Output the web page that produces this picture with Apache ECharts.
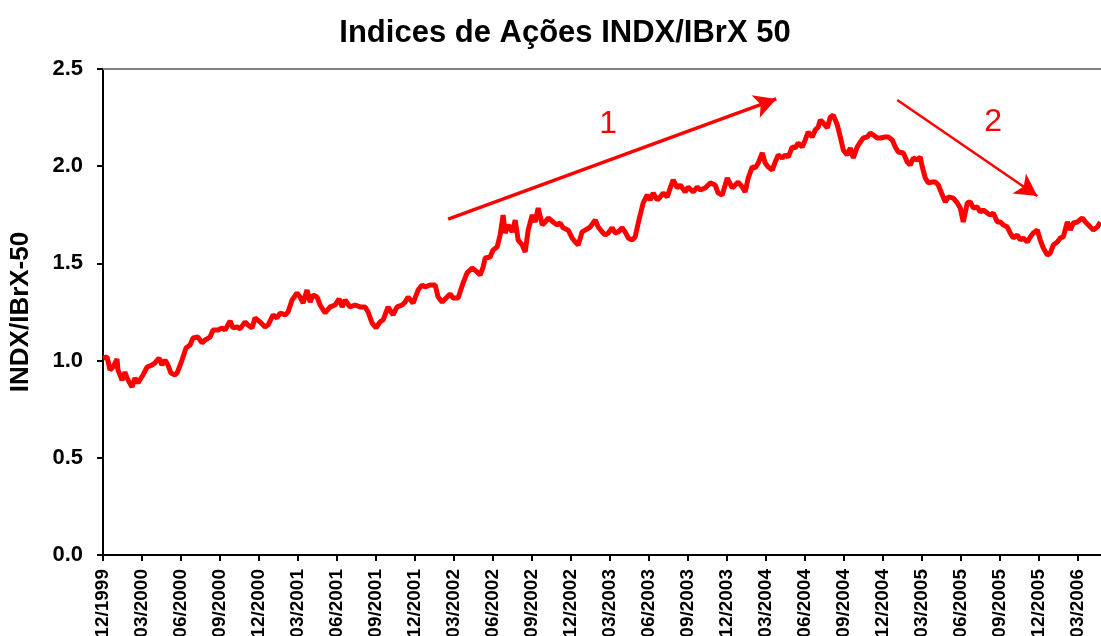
<!DOCTYPE html>
<html>
<head>
<meta charset="utf-8">
<script src="https://cdn.jsdelivr.net/npm/echarts@6/dist/echarts.min.js"></script>
<style>
  html, body { margin: 0; padding: 0; background: #fff; }
  #chart { width: 1101px; height: 636px; }
</style>
</head>
<body>
<div id="chart"></div>
<script>
// quarter labels, one every 3 months starting 12/1999
var quarterLabels = ['12/1999', '03/2000', '06/2000', '09/2000', '12/2000', '03/2001', '06/2001',
    '09/2001', '12/2001', '03/2002', '06/2002', '09/2002', '12/2002', '03/2003', '06/2003',
    '09/2003', '12/2003', '03/2004', '06/2004', '09/2004', '12/2004', '03/2005', '06/2005',
    '09/2005', '12/2005', '03/2006'];

// months elapsed since 12/1999 for each reading
var monthsSinceStart = [
    0.00, 0.31, 0.54, 0.77, 1.08, 1.15, 1.46, 1.69, 1.85, 2.23,
    2.46, 2.69, 3.08, 3.39, 3.77, 4.00, 4.31, 4.54, 4.77, 5.00,
    5.23, 5.54, 5.70, 6.08, 6.39, 6.70, 6.93, 7.31, 7.62, 7.85,
    8.24, 8.47, 8.85, 9.16, 9.39, 9.78, 10.01, 10.32, 10.55, 10.93,
    11.16, 11.47, 11.70, 12.09, 12.47, 12.70, 13.09, 13.39, 13.63, 14.01,
    14.24, 14.55, 14.93, 15.17, 15.40, 15.70, 15.94, 16.17, 16.47, 16.71,
    17.09, 17.48, 17.86, 18.17, 18.40, 18.63, 19.01, 19.40, 19.78, 20.17,
    20.40, 20.71, 21.02, 21.32, 21.56, 21.94, 22.32, 22.63, 23.02, 23.25,
    23.48, 23.86, 24.25, 24.56, 24.79, 25.17, 25.56, 25.79, 26.10, 26.48,
    26.71, 26.94, 27.33, 27.48, 27.71, 28.02, 28.41, 28.79, 29.02, 29.25,
    29.41, 29.79, 30.02, 30.33, 30.56, 30.79, 30.95, 31.18, 31.49, 31.72,
    31.95, 32.26, 32.49, 32.72, 33.03, 33.26, 33.49, 33.80, 34.03, 34.26,
    34.64, 34.95, 35.18, 35.41, 35.80, 36.10, 36.34, 36.57, 36.87, 37.11,
    37.49, 37.88, 38.11, 38.41, 38.65, 38.88, 39.18, 39.42, 39.65, 39.95,
    40.18, 40.42, 40.72, 40.95, 41.19, 41.34, 41.57, 41.88, 42.11, 42.34,
    42.65, 42.88, 43.11, 43.42, 43.65, 43.88, 44.19, 44.42, 44.80, 45.03,
    45.42, 45.73, 45.96, 46.34, 46.73, 47.11, 47.34, 47.65, 48.04, 48.42,
    48.65, 48.88, 49.19, 49.42, 49.65, 49.96, 50.19, 50.42, 50.73, 50.96,
    51.19, 51.50, 51.73, 51.96, 52.27, 52.50, 52.73, 53.04, 53.27, 53.50,
    53.81, 54.04, 54.27, 54.58, 54.81, 55.04, 55.20, 55.43, 55.74, 55.97,
    56.20, 56.51, 56.74, 56.97, 57.27, 57.51, 57.74, 58.04, 58.28, 58.51,
    58.81, 59.05, 59.28, 59.58, 59.82, 60.20, 60.43, 60.74, 60.97, 61.20,
    61.59, 61.89, 62.12, 62.36, 62.66, 62.89, 63.05, 63.28, 63.51, 63.82,
    64.05, 64.28, 64.59, 64.82, 65.05, 65.43, 65.74, 65.97, 66.20, 66.51,
    66.74, 66.97, 67.28, 67.51, 67.74, 68.05, 68.28, 68.51, 68.82, 69.05,
    69.28, 69.59, 69.82, 70.05, 70.36, 70.59, 70.82, 71.13, 71.36, 71.59,
    71.90, 72.13, 72.36, 72.67, 72.90, 73.13, 73.44, 73.67, 73.90, 74.21,
    74.44, 74.67, 74.98, 75.37, 75.60, 75.98, 76.21, 76.52, 76.75
];

// INDX / IBrX 50 ratio
var indexRatio = [
    1.013, 1.019, 0.952, 0.967, 1.008, 0.952, 0.900, 0.941, 0.910, 0.864,
    0.910, 0.885, 0.926, 0.967, 0.977, 0.988, 1.013, 0.977, 1.003, 0.977,
    0.936, 0.926, 0.936, 1.003, 1.065, 1.080, 1.116, 1.121, 1.091, 1.106,
    1.121, 1.157, 1.157, 1.168, 1.157, 1.204, 1.168, 1.173, 1.163, 1.199,
    1.183, 1.168, 1.219, 1.199, 1.173, 1.183, 1.235, 1.219, 1.245, 1.235,
    1.250, 1.312, 1.348, 1.327, 1.296, 1.363, 1.301, 1.337, 1.327, 1.286,
    1.245, 1.276, 1.286, 1.317, 1.276, 1.312, 1.276, 1.286, 1.276, 1.276,
    1.250, 1.193, 1.168, 1.199, 1.209, 1.276, 1.235, 1.276, 1.286, 1.301,
    1.327, 1.296, 1.363, 1.389, 1.379, 1.389, 1.389, 1.327, 1.301, 1.327,
    1.343, 1.322, 1.322, 1.353, 1.399, 1.451, 1.476, 1.456, 1.440, 1.481,
    1.528, 1.533, 1.569, 1.584, 1.646, 1.749, 1.656, 1.698, 1.662, 1.723,
    1.620, 1.595, 1.559, 1.671, 1.749, 1.713, 1.785, 1.698, 1.713, 1.734,
    1.713, 1.698, 1.708, 1.683, 1.671, 1.631, 1.610, 1.595, 1.662, 1.671,
    1.687, 1.723, 1.687, 1.662, 1.646, 1.656, 1.683, 1.656, 1.662, 1.683,
    1.662, 1.631, 1.620, 1.636, 1.708, 1.749, 1.811, 1.852, 1.826, 1.862,
    1.826, 1.842, 1.862, 1.842, 1.888, 1.929, 1.888, 1.903, 1.867, 1.893,
    1.867, 1.893, 1.878, 1.888, 1.914, 1.903, 1.862, 1.852, 1.939, 1.888,
    1.903, 1.919, 1.893, 1.867, 1.939, 1.996, 1.991, 2.016, 2.068, 2.016,
    1.996, 1.980, 2.022, 2.058, 2.042, 2.058, 2.047, 2.099, 2.094, 2.119,
    2.099, 2.135, 2.176, 2.150, 2.186, 2.202, 2.238, 2.222, 2.197, 2.253,
    2.263, 2.212, 2.150, 2.083, 2.058, 2.094, 2.042, 2.099, 2.124, 2.145,
    2.150, 2.171, 2.160, 2.145, 2.145, 2.150, 2.150, 2.135, 2.099, 2.073,
    2.068, 2.022, 2.006, 2.042, 2.032, 2.047, 1.996, 1.939, 1.914, 1.919,
    1.919, 1.903, 1.852, 1.816, 1.842, 1.836, 1.811, 1.785, 1.713, 1.811,
    1.816, 1.785, 1.790, 1.764, 1.775, 1.759, 1.749, 1.759, 1.713, 1.713,
    1.698, 1.687, 1.656, 1.631, 1.646, 1.620, 1.631, 1.610, 1.636, 1.656,
    1.672, 1.620, 1.579, 1.543, 1.553, 1.595, 1.610, 1.631, 1.636, 1.713,
    1.672, 1.708, 1.713, 1.734, 1.713, 1.687, 1.672, 1.687, 1.713
];

// trend arrows: [start month, start ratio, end month, end ratio]
var trendUp = [26.56, 1.728, 51.81, 2.346];
var trendDown = [61.12, 2.341, 71.90, 1.847];
// trend labels: [text, month, ratio]
var trendLabels = [['1', 38.88, 2.217], ['2', 68.51, 2.227]];

var xMax = 76.8;
var font = 'Arial, "Liberation Sans", sans-serif';

var seriesData = monthsSinceStart.map(function (m, i) { return [m, indexRatio[i]]; });
var tickValues = quarterLabels.map(function (l, i) { return i * 3; });

var chart = echarts.init(document.getElementById('chart'), null, {renderer: 'canvas'});

chart.setOption({
    animation: false,
    backgroundColor: '#fff',
    title: {
        text: 'Indices de Ações INDX/IBrX 50',
        left: 560,
        top: 13,
        textAlign: 'center',
        textStyle: {fontFamily: font, fontSize: 31, fontWeight: 'bold', color: '#000'}
    },
    // labels run off the bottom edge in the original, so don't let the grid shrink
    grid: {left: 103, right: 0, top: 69, bottom: 81, containLabel: false, outerBoundsMode: 'none'},
    xAxis: [{
        type: 'value',
        min: 0,
        max: xMax,
        axisLine: {show: true, lineStyle: {color: '#000', width: 2}},
        axisTick: {show: true, length: 6, lineStyle: {color: '#000', width: 2}, customValues: tickValues},
        axisLabel: {
            rotate: 90,
            margin: 14,
            fontFamily: font,
            fontSize: 19,
            fontWeight: 'bold',
            color: '#000',
            customValues: tickValues,
            formatter: function (v) { return quarterLabels[Math.round(v / 3)] || ''; }
        },
        splitLine: {show: false}
    }, {
        type: 'value',
        position: 'top',
        min: 0,
        max: xMax,
        axisLine: {show: true, onZero: false, lineStyle: {color: '#808080', width: 2}},
        axisTick: {show: false},
        axisLabel: {show: false},
        splitLine: {show: false}
    }],
    yAxis: {
        type: 'value',
        min: 0,
        max: 2.5,
        interval: 0.5,
        name: 'INDX/IBrX-50',
        nameLocation: 'middle',
        nameGap: 69,
        nameTextStyle: {fontFamily: font, fontSize: 26, fontWeight: 'bold', color: '#000'},
        axisLine: {show: true, lineStyle: {color: '#000', width: 2}},
        axisTick: {show: true, length: 6, lineStyle: {color: '#000', width: 2}},
        axisLabel: {
            margin: 20,
            fontFamily: font,
            fontSize: 22,
            fontWeight: 'bold',
            color: '#000',
            formatter: function (v) { return v.toFixed(1); }
        },
        splitLine: {show: false}
    },
    series: [{
        type: 'line',
        xAxisIndex: 0,
        data: seriesData,
        showSymbol: false,
        symbol: 'none',
        lineStyle: {color: '#ff0000', width: 5},
        markLine: {
            silent: true,
            animation: false,
            label: {show: false},
            data: [
                [{coord: [trendUp[0], trendUp[1]], symbol: 'none', lineStyle: {color: '#ff0000', width: 3.5, type: 'solid'}},
                 {coord: [trendUp[2], trendUp[3]], symbol: 'arrow', symbolSize: [18, 22]}],
                [{coord: [trendDown[0], trendDown[1]], symbol: 'none', lineStyle: {color: '#ff0000', width: 2.5, type: 'solid'}},
                 {coord: [trendDown[2], trendDown[3]], symbol: 'arrow', symbolSize: [18, 22]}]
            ],
            itemStyle: {color: '#ff0000'}
        },
        markPoint: {
            silent: true,
            animation: false,
            symbol: 'circle',
            symbolSize: 1,
            itemStyle: {color: 'rgba(0,0,0,0)'},
            label: {
                show: true,
                position: 'inside',
                formatter: '{b}',
                fontFamily: font,
                fontSize: 32,
                color: '#ff0000'
            },
            data: trendLabels.map(function (t) { return {name: t[0], coord: [t[1], t[2]]}; })
        }
    }]
});
</script>
</body>
</html>
